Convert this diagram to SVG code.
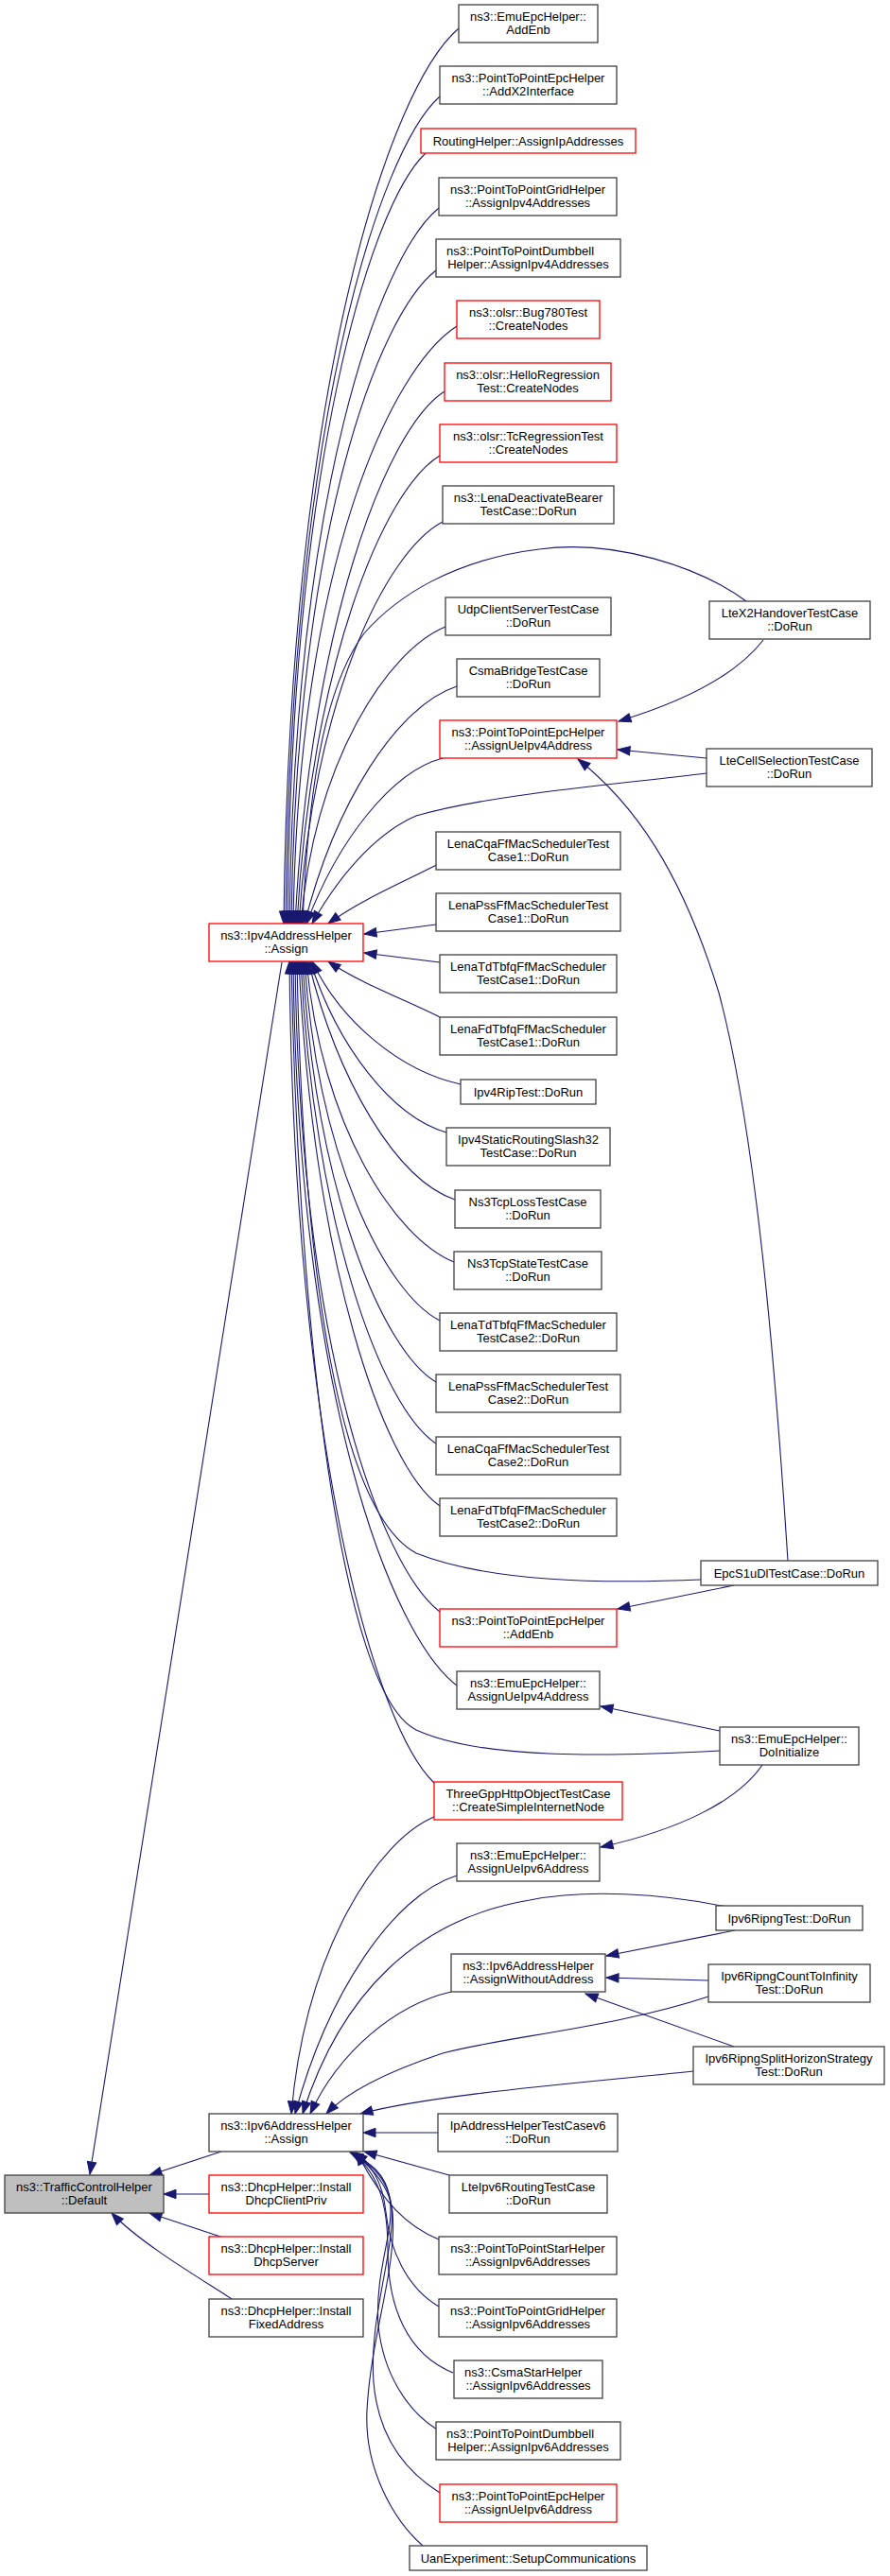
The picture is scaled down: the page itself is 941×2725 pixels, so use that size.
<svg xmlns="http://www.w3.org/2000/svg" width="941" height="2725" viewBox="0 0 941 2725">
<style>
.b{fill:#fff;stroke:#404040;stroke-width:1.3}
.r{fill:#fff;stroke:#ff0000;stroke-width:1.3}
.g{fill:#bfbfbf;stroke:#404040;stroke-width:1.3}
text{font-family:"Liberation Sans",Arial,Helvetica,sans-serif;font-size:13px;text-anchor:middle;fill:#000}
text.s{text-anchor:start}
.e{fill:none;stroke:#191970;stroke-width:1.1;marker-end:url(#ah)}
</style>
<defs>
<marker id="ah" markerUnits="userSpaceOnUse" markerWidth="16" markerHeight="12" refX="13" refY="5" orient="auto" overflow="visible">
<path d="M0,0.3 L13,5 L0,9.7 z" fill="#191970" stroke="#191970" stroke-width="1"/>
</marker>
</defs>
<rect width="941" height="2725" fill="#fff"/>
<g id="edges">
<path class="e" d="M485,30 C411,93 306,409 300,977"/>
<path class="e" d="M465,102 C400,160 307,452 302,977"/>
<path class="e" d="M450,162 C392,217 308,488 304,977"/>
<path class="e" d="M464,220 C401,271 311,523 306,977"/>
<path class="e" d="M461,286 C400,333 313,562 308,977"/>
<path class="e" d="M483,345 C414,389 315,598 310,977"/>
<path class="e" d="M470,414 C407,454 328,667 312,977"/>
<path class="e" d="M465,482 C405,518 329,705 314,977"/>
<path class="e" d="M468,552 C407,584 331,743 316,977"/>
<path class="e" d="M471,663 C410,688 333,804 318,977"/>
<path class="e" d="M789,636 C740,600 650,570 570,581 C480,592 420,630 385,670 C340,730 325,850 320,977"/>
<path class="e" d="M483,726 C419,747 354,851 322,977"/>
<path class="e" d="M468,802 C415,816 358,887 324,977"/>
<path class="e" d="M747,818 C650,830 520,840 440,863 C405,878 365,915 330,977"/>
<path class="e" d="M471,910 C434,930 384,950 347,977"/>
<path class="e" d="M461,978 L385,988"/>
<path class="e" d="M465,1018 L385,1008"/>
<path class="e" d="M465,1076 C430,1058 382,1041 347,1017"/>
<path class="e" d="M487,1147 C424,1133 361,1082 330,1017"/>
<path class="e" d="M472,1198 C414,1181 357,1107 328,1017"/>
<path class="e" d="M481,1269 C419,1248 357,1143 326,1017"/>
<path class="e" d="M480,1335 C418,1310 340,1192 324,1017"/>
<path class="e" d="M465,1397 C408,1368 336,1226 322,1017"/>
<path class="e" d="M461,1462 C405,1429 334,1262 320,1017"/>
<path class="e" d="M461,1527 C404,1490 332,1297 318,1017"/>
<path class="e" d="M465,1593 C405,1552 331,1334 316,1017"/>
<path class="e" d="M741,1671 C650,1675 520,1675 440,1643 C360,1600 320,1350 314,1017"/>
<path class="e" d="M465,1705 C404,1658 317,1430 312,1017"/>
<path class="e" d="M483,1783 C414,1731 315,1477 310,1017"/>
<path class="e" d="M761,1852 C650,1858 510,1862 440,1830 C360,1790 315,1400 308,1017"/>
<path class="e" d="M459,1886 C398,1828 311,1538 306,1017"/>
<path class="e" d="M807,677 C780,712 730,740 654,763"/>
<path class="e" d="M747,802 L653,793"/>
<path class="e" d="M833,1651 C820,1450 800,1200 760,1050 C720,920 670,850 611,803"/>
<path class="e" d="M776,1677 L653,1702"/>
<path class="e" d="M761,1831 L635,1805"/>
<path class="e" d="M806,1867 C780,1905 720,1935 635,1954"/>
<path class="e" d="M777,2042 L641,2069"/>
<path class="e" d="M749,2095 L641,2092"/>
<path class="e" d="M776,2165 L619,2109"/>
<path class="e" d="M459,1922 C399,1947 323,2063 308,2236"/>
<path class="e" d="M483,1984 C415,2005 346,2110 312,2236"/>
<path class="e" d="M768,2017 C700,2003 620,1998 560,2010 C440,2030 360,2110 320,2236"/>
<path class="e" d="M477,2107 C417,2121 358,2171 328,2236"/>
<path class="e" d="M749,2112 C650,2145 530,2155 468,2172 C420,2188 370,2210 345,2236"/>
<path class="e" d="M733,2191 C620,2203 460,2215 381,2236"/>
<path class="e" d="M463,2256 L384,2256"/>
<path class="e" d="M475,2301 L385,2276"/>
<path class="e" d="M464,2369 C430,2355 405,2330 377,2277"/>
<path class="e" d="M464,2440 C430,2420 412,2380 408,2340 C404,2305 392,2290 375,2277"/>
<path class="e" d="M479,2510 C430,2490 410,2440 410,2380 C410,2330 400,2300 373,2277"/>
<path class="e" d="M462,2570 C430,2550 405,2510 400,2460 C396,2400 418,2360 412,2325 C408,2300 392,2288 371,2277"/>
<path class="e" d="M465,2637 C430,2615 400,2580 395,2520 C390,2450 418,2380 414,2335 C411,2305 392,2288 370,2277"/>
<path class="e" d="M447,2693 C415,2665 385,2610 388,2550 C392,2470 420,2400 415,2340 C412,2310 390,2290 372,2277"/>
<path class="e" d="M298,1018 L95,2300"/>
<path class="e" d="M234,2276 L158,2301"/>
<path class="e" d="M221,2321 L173,2321"/>
<path class="e" d="M236,2367 L158,2341"/>
<path class="e" d="M245,2432 C225,2418 150,2375 118,2341"/>
</g>
<g id="n1"><rect class="b" x="485" y="5" width="147" height="40"/><text x="558.5" y="22">ns3::EmuEpcHelper::</text><text x="558.5" y="36">AddEnb</text></g>
<g id="n2"><rect class="b" x="465" y="70" width="187" height="40"/><text x="558.5" y="87">ns3::PointToPointEpcHelper</text><text x="558.5" y="101">::AddX2Interface</text></g>
<g id="n3"><rect class="r" x="445" y="136" width="227" height="26"/><text x="558.5" y="153.5">RoutingHelper::AssignIpAddresses</text></g>
<g id="n4"><rect class="b" x="464" y="188" width="188" height="40"/><text x="558" y="205">ns3::PointToPointGridHelper</text><text x="558" y="219">::AssignIpv4Addresses</text></g>
<g id="n5"><rect class="b" x="461" y="253" width="195" height="40"/><text class="s" x="472" y="270">ns3::PointToPointDumbbell</text><text x="558.5" y="284">Helper::AssignIpv4Addresses</text></g>
<g id="n6"><rect class="r" x="483" y="318" width="151" height="40"/><text x="558.5" y="335">ns3::olsr::Bug780Test</text><text x="558.5" y="349">::CreateNodes</text></g>
<g id="n7"><rect class="r" x="470" y="384" width="176" height="40"/><text x="558" y="401">ns3::olsr::HelloRegression</text><text x="558" y="415">Test::CreateNodes</text></g>
<g id="n8"><rect class="r" x="465" y="449" width="187" height="40"/><text x="558.5" y="466">ns3::olsr::TcRegressionTest</text><text x="558.5" y="480">::CreateNodes</text></g>
<g id="n9"><rect class="b" x="468" y="514" width="181" height="40"/><text x="558.5" y="531">ns3::LenaDeactivateBearer</text><text x="558.5" y="545">TestCase::DoRun</text></g>
<g id="n10"><rect class="b" x="471" y="632" width="175" height="40"/><text x="558.5" y="649">UdpClientServerTestCase</text><text x="558.5" y="663">::DoRun</text></g>
<g id="n11"><rect class="b" x="750" y="636" width="170" height="40"/><text x="835" y="653">LteX2HandoverTestCase</text><text x="835" y="667">::DoRun</text></g>
<g id="n12"><rect class="b" x="483" y="697" width="151" height="40"/><text x="558.5" y="714">CsmaBridgeTestCase</text><text x="558.5" y="728">::DoRun</text></g>
<g id="n13"><rect class="r" x="465" y="762" width="187" height="40"/><text x="558.5" y="779">ns3::PointToPointEpcHelper</text><text x="558.5" y="793">::AssignUeIpv4Address</text></g>
<g id="n14"><rect class="b" x="747" y="792" width="175" height="40"/><text x="834.5" y="809">LteCellSelectionTestCase</text><text x="834.5" y="823">::DoRun</text></g>
<g id="n15"><rect class="b" x="461" y="880" width="195" height="40"/><text x="558.5" y="897">LenaCqaFfMacSchedulerTest</text><text x="558.5" y="911">Case1::DoRun</text></g>
<g id="n16"><rect class="r" x="221" y="977" width="163" height="40"/><text x="302.5" y="994">ns3::Ipv4AddressHelper</text><text x="302.5" y="1008">::Assign</text></g>
<g id="n17"><rect class="b" x="461" y="945" width="195" height="40"/><text x="558.5" y="962">LenaPssFfMacSchedulerTest</text><text x="558.5" y="976">Case1::DoRun</text></g>
<g id="n18"><rect class="b" x="465" y="1010" width="187" height="40"/><text x="558.5" y="1027">LenaTdTbfqFfMacScheduler</text><text x="558.5" y="1041">TestCase1::DoRun</text></g>
<g id="n19"><rect class="b" x="465" y="1076" width="187" height="40"/><text x="558.5" y="1093">LenaFdTbfqFfMacScheduler</text><text x="558.5" y="1107">TestCase1::DoRun</text></g>
<g id="n20"><rect class="b" x="487" y="1142" width="143" height="26"/><text x="558.5" y="1159.5">Ipv4RipTest::DoRun</text></g>
<g id="n21"><rect class="b" x="472" y="1193" width="173" height="40"/><text x="558.5" y="1210">Ipv4StaticRoutingSlash32</text><text x="558.5" y="1224">TestCase::DoRun</text></g>
<g id="n22"><rect class="b" x="481" y="1259" width="154" height="40"/><text x="558" y="1276">Ns3TcpLossTestCase</text><text x="558" y="1290">::DoRun</text></g>
<g id="n23"><rect class="b" x="480" y="1324" width="156" height="40"/><text x="558" y="1341">Ns3TcpStateTestCase</text><text x="558" y="1355">::DoRun</text></g>
<g id="n24"><rect class="b" x="465" y="1389" width="187" height="40"/><text x="558.5" y="1406">LenaTdTbfqFfMacScheduler</text><text x="558.5" y="1420">TestCase2::DoRun</text></g>
<g id="n25"><rect class="b" x="461" y="1454" width="195" height="40"/><text x="558.5" y="1471">LenaPssFfMacSchedulerTest</text><text x="558.5" y="1485">Case2::DoRun</text></g>
<g id="n26"><rect class="b" x="461" y="1520" width="195" height="40"/><text x="558.5" y="1537">LenaCqaFfMacSchedulerTest</text><text x="558.5" y="1551">Case2::DoRun</text></g>
<g id="n27"><rect class="b" x="465" y="1585" width="187" height="40"/><text x="558.5" y="1602">LenaFdTbfqFfMacScheduler</text><text x="558.5" y="1616">TestCase2::DoRun</text></g>
<g id="n28"><rect class="b" x="741" y="1651" width="187" height="26"/><text x="834.5" y="1668.5">EpcS1uDlTestCase::DoRun</text></g>
<g id="n29"><rect class="r" x="465" y="1702" width="187" height="40"/><text x="558.5" y="1719">ns3::PointToPointEpcHelper</text><text x="558.5" y="1733">::AddEnb</text></g>
<g id="n30"><rect class="b" x="483" y="1768" width="151" height="40"/><text x="558.5" y="1785">ns3::EmuEpcHelper::</text><text x="558.5" y="1799">AssignUeIpv4Address</text></g>
<g id="n31"><rect class="b" x="761" y="1827" width="147" height="40"/><text x="834.5" y="1844">ns3::EmuEpcHelper::</text><text x="834.5" y="1858">DoInitialize</text></g>
<g id="n32"><rect class="r" x="459" y="1885" width="199" height="40"/><text x="558.5" y="1902">ThreeGppHttpObjectTestCase</text><text x="558.5" y="1916">::CreateSimpleInternetNode</text></g>
<g id="n33"><rect class="b" x="483" y="1950" width="151" height="40"/><text x="558.5" y="1967">ns3::EmuEpcHelper::</text><text x="558.5" y="1981">AssignUeIpv6Address</text></g>
<g id="n34"><rect class="b" x="757" y="2016" width="155" height="26"/><text x="834.5" y="2033.5">Ipv6RipngTest::DoRun</text></g>
<g id="n35"><rect class="b" x="477" y="2067" width="163" height="40"/><text x="558.5" y="2084">ns3::Ipv6AddressHelper</text><text x="558.5" y="2098">::AssignWithoutAddress</text></g>
<g id="n36"><rect class="b" x="749" y="2078" width="171" height="40"/><text x="834.5" y="2095">Ipv6RipngCountToInfinity</text><text x="834.5" y="2109">Test::DoRun</text></g>
<g id="n37"><rect class="b" x="733" y="2165" width="202" height="40"/><text x="834" y="2182">Ipv6RipngSplitHorizonStrategy</text><text x="834" y="2196">Test::DoRun</text></g>
<g id="n38"><rect class="b" x="221" y="2236" width="163" height="40"/><text x="302.5" y="2253">ns3::Ipv6AddressHelper</text><text x="302.5" y="2267">::Assign</text></g>
<g id="n39"><rect class="b" x="463" y="2236" width="190" height="40"/><text x="558" y="2253">IpAddressHelperTestCasev6</text><text x="558" y="2267">::DoRun</text></g>
<g id="n40"><rect class="g" x="5" y="2301" width="168" height="40"/><text x="89" y="2318">ns3::TrafficControlHelper</text><text x="89" y="2332">::Default</text></g>
<g id="n41"><rect class="r" x="221" y="2301" width="163" height="40"/><text x="302.5" y="2318">ns3::DhcpHelper::Install</text><text x="302.5" y="2332">DhcpClientPriv</text></g>
<g id="n42"><rect class="b" x="475" y="2301" width="167" height="40"/><text x="558.5" y="2318">LteIpv6RoutingTestCase</text><text x="558.5" y="2332">::DoRun</text></g>
<g id="n43"><rect class="r" x="221" y="2366" width="163" height="40"/><text x="302.5" y="2383">ns3::DhcpHelper::Install</text><text x="302.5" y="2397">DhcpServer</text></g>
<g id="n44"><rect class="b" x="464" y="2366" width="188" height="40"/><text x="558" y="2383">ns3::PointToPointStarHelper</text><text x="558" y="2397">::AssignIpv6Addresses</text></g>
<g id="n45"><rect class="b" x="221" y="2432" width="163" height="40"/><text x="302.5" y="2449">ns3::DhcpHelper::Install</text><text x="302.5" y="2463">FixedAddress</text></g>
<g id="n46"><rect class="b" x="464" y="2432" width="188" height="40"/><text x="558" y="2449">ns3::PointToPointGridHelper</text><text x="558" y="2463">::AssignIpv6Addresses</text></g>
<g id="n47"><rect class="b" x="480" y="2497" width="157" height="40"/><text class="s" x="491" y="2514">ns3::CsmaStarHelper</text><text x="558.5" y="2528">::AssignIpv6Addresses</text></g>
<g id="n48"><rect class="b" x="461" y="2562" width="195" height="40"/><text class="s" x="472" y="2579">ns3::PointToPointDumbbell</text><text x="558.5" y="2593">Helper::AssignIpv6Addresses</text></g>
<g id="n49"><rect class="r" x="465" y="2628" width="187" height="40"/><text x="558.5" y="2645">ns3::PointToPointEpcHelper</text><text x="558.5" y="2659">::AssignUeIpv6Address</text></g>
<g id="n50"><rect class="b" x="433" y="2693" width="251" height="26"/><text x="558.5" y="2710.5">UanExperiment::SetupCommunications</text></g>
</svg>
